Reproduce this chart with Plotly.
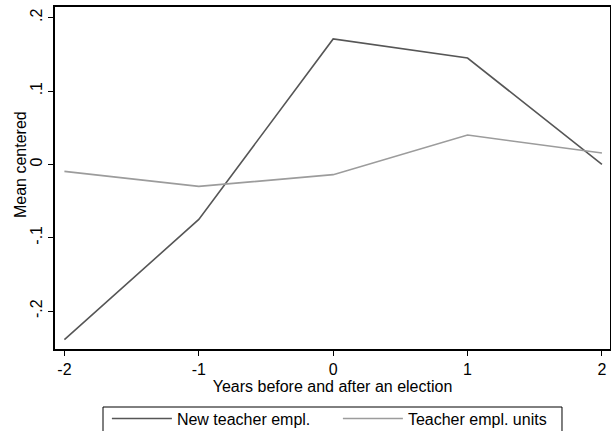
import plotly.graph_objects as go

years = [-2, -1, 0, 1, 2]
new_teacher = [-0.239, -0.075, 0.171, 0.145, 0.0]
teacher_units = [-0.0095, -0.030, -0.014, 0.040, 0.0155]
y_tickvals = [-0.2, -0.1, 0, 0.1, 0.2]
y_ticktext = ["-.2", "-.1", "0", ".1", ".2"]
x_tickvals = [-2, -1, 0, 1, 2]
x_ticktext = ["-2", "-1", "0", "1", "2"]

FONT = "Liberation Sans, Arial, sans-serif"
FS = 16

fig = go.Figure()
fig.add_trace(go.Scatter(x=years, y=new_teacher, mode="lines", name="New teacher empl.",
                         line=dict(color="#565656", width=1.6)))
fig.add_trace(go.Scatter(x=years, y=teacher_units, mode="lines", name="Teacher empl. units",
                         line=dict(color="#9c9c9c", width=1.6)))

fig.update_layout(
    width=611, height=431,
    margin=dict(l=55, r=1, t=7, b=82, autoexpand=False),
    paper_bgcolor="white", plot_bgcolor="white",
    font=dict(family=FONT, size=FS, color="black"),
    showlegend=True,
    legend=dict(orientation="h", x=0.0935, y=-0.154, xanchor="left", yanchor="top",
                borderwidth=0, bgcolor="rgba(0,0,0,0)",
                font=dict(family=FONT, size=FS, color="black"),
                entrywidth=156, entrywidthmode="pixels", itemwidth=60,
                traceorder="normal"),
    shapes=[dict(type="rect", xref="paper", yref="paper", x0=0.0865, x1=0.9135,
                 y0=-0.1696, y1=-0.35, line=dict(color="black", width=1), layer="below")],
    annotations=[dict(text="Mean centered", textangle=-90, xref="paper", yref="paper",
                      x=-0.063, y=0.538, xanchor="center", yanchor="middle",
                      showarrow=False, font=dict(family=FONT, size=FS, color="black"))],
)
fig.update_xaxes(range=[-2.07, 2.06], tickvals=x_tickvals, ticktext=x_ticktext,
                 ticks="outside", ticklen=5, automargin=False,
                 tickwidth=1, tickcolor="black", showline=True, linecolor="black", linewidth=1.5,
                 mirror=True, showgrid=False, zeroline=False,
                 title=dict(text="Years before and after an election", standoff=0,
                            font=dict(family=FONT, size=FS)),
                 tickfont=dict(family=FONT, size=FS))
fig.update_yaxes(range=[-0.2517, 0.2146], tickvals=y_tickvals, ticktext=y_ticktext,
                 ticks="outside", ticklen=5, tickwidth=1, tickcolor="black", automargin=False,
                 showline=True, linecolor="black", linewidth=1.5, mirror=True,
                 showgrid=False, zeroline=False, tickangle=-90,
                 tickfont=dict(family=FONT, size=FS))

fig.write_html("out.html", config={"displayModeBar": False},
               post_script="document.body.style.margin='0';document.body.style.overflow='hidden';")
